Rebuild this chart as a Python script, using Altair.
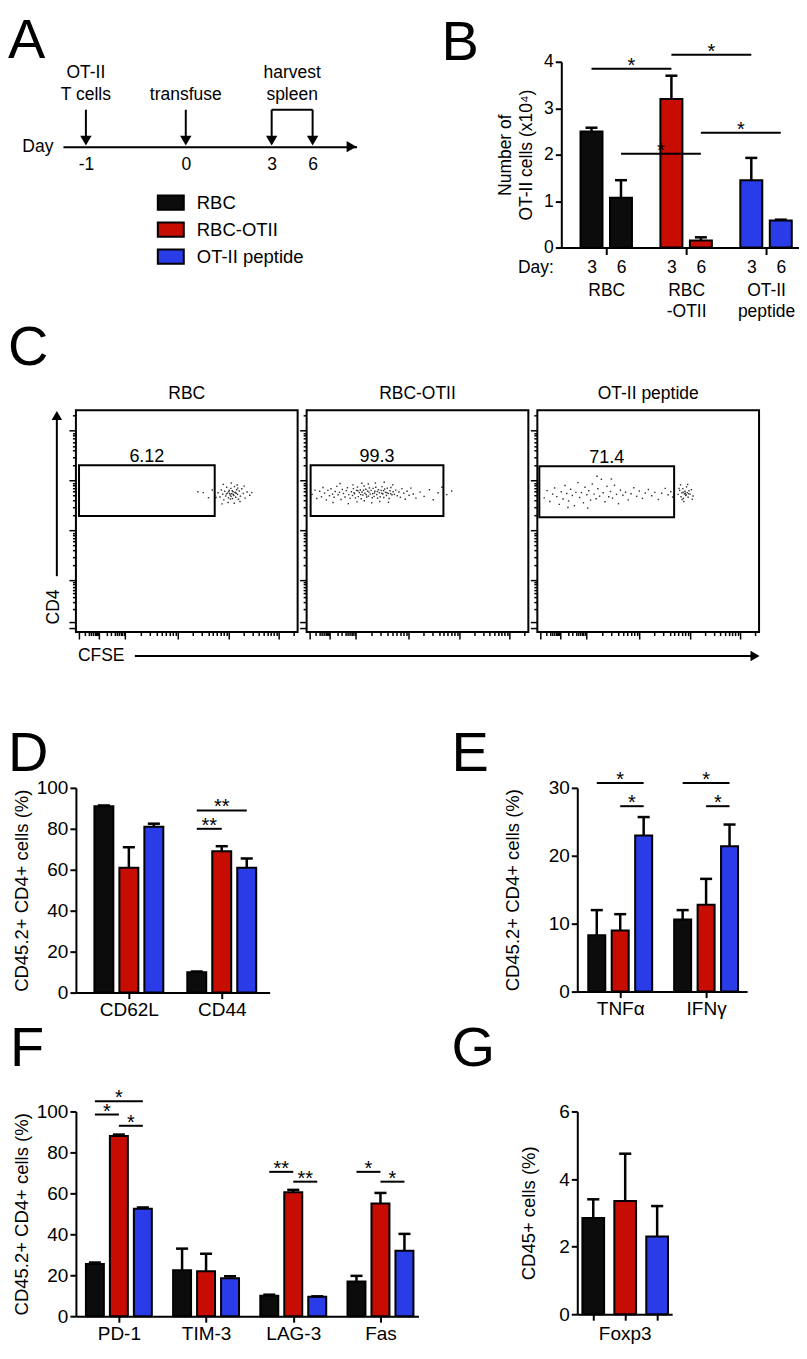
import altair as alt
import pandas as pd

FONT = "Liberation Sans"

# ---------------- shared series ----------------
SERIES = ["RBC", "RBC-OTII", "OT-II peptide"]
SERIES_COLORS = ["#0c0c0c", "#c70d02", "#2a3be8"]

# ---------------- panel A (timeline) ----------------
TL_DAYS = [-1, 0, 3, 6]
EV_TEXT = ["OT-II\nT cells", "\ntransfuse", "harvest\nspleen"]
EV_FROM = [-1, 0, 3]
EV_TO = [-1, 0, 6]

# ---------------- panel B ----------------
B_GROUPS = ["RBC", "RBC-OTII", "OT-II peptide"]
B_GROUP_LINES = [["RBC"], ["RBC", "-OTII"], ["OT-II", "peptide"]]
B_DAYS = ["3", "6"]
B_MEAN = [[2.50, 1.07], [3.20, 0.15], [1.45, 0.58]]
B_SEM = [[0.08, 0.38], [0.50, 0.07], [0.48, 0.02]]
B_SIG = [((0, 0), (1, 0), 3.85, "*"), ((1, 0), (2, 0), 4.15, "*"),
         ((0, 1), (1, 1), 2.02, "*"), ((1, 1), (2, 1), 2.47, "*")]

# ---------------- panel C (flow plots, axis units 0-100) ----------------
C_PCT = ["6.12", "99.3", "71.4"]
C_GATES = [[1.4, 62.6, 52.3, 75.2], [1.8, 61.7, 52.3, 75.2], [0.9, 61.7, 51.8, 74.8]]
C1_EVENTS = [(64.1,62.8),(65.0,60.9),(65.6,64.1),(66.2,62.2),(66.7,59.6),(67.1,63.5),(67.6,61.4),(68.0,65.3),
             (68.4,62.7),(68.8,60.5),(69.2,63.9),(69.6,61.8),(69.9,64.8),(70.3,62.4),(70.6,60.2),(70.9,63.3),
             (71.2,61.6),(71.5,65.6),(71.8,62.9),(72.1,60.8),(72.5,64.2),(72.9,62.1),(73.3,59.9),(73.7,63.6),
             (74.2,61.3),(74.8,64.6),(75.5,62.5),(76.3,60.4),(77.2,63.2),(78.4,61.7),(66.5,66.6),(68.6,58.4),
             (70.1,67.2),(71.4,58.1),(72.7,66.3),(74.0,58.9),(69.4,62.5),(70.5,63.7),(71.0,62.0),(71.9,63.0),
             (70.0,61.2),(68.9,63.4),(72.3,62.6),(69.7,60.0),(73.0,64.9),(67.9,62.3),(75.9,65.8),(63.2,60.7),
             (79.3,62.9),(65.9,57.8),(57.4,62.9),(59.8,60.6),(61.5,64.1),(55.0,63.3),(62.6,61.8)]
C2_EVENTS = [(2.5,62.1),(3.8,64.0),(4.6,60.2),(5.9,63.5),(6.7,61.0),(7.4,65.2),(8.1,62.7),(8.9,59.6),(9.6,63.9),
             (10.3,61.5),(11.0,64.6),(11.7,62.2),(12.4,60.8),(12.9,63.4),(13.6,65.7),(14.2,61.9),(14.8,63.0),
             (15.5,59.8),(16.1,64.3),(16.6,62.5),(17.3,60.9),(17.9,63.8),(18.4,65.1),(19.0,62.0),(19.6,60.3),
             (11.9,58.4),(15.1,67.0),(18.8,57.9),(20.2,63.3),(20.7,61.6),(21.1,64.7),(21.6,62.4),(22.0,60.5),
             (22.5,63.9),(22.9,65.4),(23.3,61.1),(23.8,62.9),(24.2,64.1),(24.6,60.1),(25.0,63.2),(25.4,61.8),
             (25.9,65.9),(26.3,62.6),(26.7,64.4),(27.1,60.9),(27.5,63.6),(27.9,61.3),(28.3,65.0),(28.7,62.2),
             (29.1,63.9),(29.6,60.6),(30.0,64.8),(20.9,66.4),(22.7,58.7),(24.9,67.1),(26.0,59.2),(27.8,66.8),
             (29.4,58.3),(21.4,62.9),(23.1,63.7),(24.4,62.0),(25.7,64.0),(26.9,61.9),(28.1,63.1),(29.8,62.4),
             (30.4,61.2),(30.8,63.5),(31.2,65.3),(31.6,62.0),(32.0,60.4),(32.4,64.2),(32.8,62.8),(33.2,61.0),
             (33.6,63.9),(34.0,65.6),(34.4,62.3),(34.8,60.7),(35.2,64.5),(35.6,63.0),(36.0,61.6),(36.4,64.9),
             (36.8,62.5),(37.2,60.2),(37.6,63.7),(38.0,65.2),(38.5,61.9),(39.0,63.3),(39.6,62.1),(31.0,67.2),
             (33.0,58.9),(35.0,67.6),(36.9,58.5),(38.8,66.4),(30.6,62.7),(31.9,63.4),(33.9,62.6),(34.7,63.8),
             (36.2,62.9),(37.9,62.4),(40.2,64.0),(40.9,61.5),(41.6,63.2),(42.3,60.8),(43.0,64.7),(43.8,62.6),
             (44.5,59.9),(45.3,63.5),(46.2,61.7),(47.0,64.9),(48.1,62.3),(49.3,60.4),(51.2,63.1),(53.0,61.2),
             (55.4,64.2),(57.1,59.7),(59.3,62.8),(61.0,65.3),(63.2,62.0),(65.4,63.6)]
C3_EVENTS = [(3.1,60.5),(4.4,63.8),(5.6,58.9),(6.9,62.2),(7.8,65.0),(8.8,61.1),(9.9,57.6),(10.8,63.3),(11.6,60.0),
             (12.5,66.1),(13.3,62.5),(14.1,59.1),(15.0,64.4),(15.8,61.6),(16.7,57.0),(17.4,63.0),(18.3,67.4),
             (19.1,60.7),(19.9,62.9),(20.8,58.3),(21.5,65.3),(22.3,61.9),(23.2,63.7),(24.0,59.5),(24.8,66.8),
             (25.6,62.2),(26.5,60.1),(27.3,64.6),(28.1,61.3),(28.9,68.9),(29.7,62.8),(30.5,58.8),(31.4,65.7),
             (32.2,61.0),(33.0,63.4),(33.9,60.4),(34.8,66.2),(35.7,62.1),(36.6,57.9),(37.5,64.0),(38.6,61.7),
             (39.8,63.1),(41.0,59.6),(42.3,62.4),(43.5,65.1),(44.8,61.2),(46.0,63.6),(47.4,60.3),(48.7,62.7),
             (50.1,64.3),(51.6,61.5),(53.0,63.0),(54.6,59.8),(56.1,62.6),(57.7,64.8),(59.0,61.9),(60.2,63.3),
             (61.0,60.9),(26.9,70.3),(22.7,55.9),(33.4,69.0),(13.8,56.2),(63.5,62.1),(64.2,63.9),(64.8,61.0),
             (65.2,62.8),(65.6,64.7),(65.9,60.3),(66.3,62.3),(66.6,63.5),(66.9,61.6),(67.3,65.5),(67.6,62.9),
             (68.0,60.8),(68.4,63.7),(68.9,62.2),(69.5,64.2),(70.2,61.4),(64.6,66.4),(66.1,58.9),(67.8,66.6),
             (65.3,59.8),(66.7,62.6),(67.1,61.9),(65.8,63.1),(68.2,62.4),(63.9,64.8),(69.9,59.9)]
C_EVENTS = [C1_EVENTS, C2_EVENTS, C3_EVENTS]
FX_MAJOR = [1.5, 10.4, 22.0, 46.0, 68.8, 91.4]
FX_MINOR = [4.2, 5.7, 6.9, 7.7, 8.4, 9.0, 9.5, 10.0, 13.9, 15.9, 17.4, 18.5, 19.4, 20.2, 20.9, 21.5,
            29.2, 33.5, 36.4, 38.8, 40.7, 42.3, 43.7, 44.9, 52.9, 56.9, 59.7, 61.9, 63.7, 65.3, 66.6, 67.8,
            75.6, 79.6, 82.4, 84.6, 86.4, 87.9, 89.2, 90.4, 98.2]
FY_MAJOR = [2.0, 4.5, 23.3, 45.8, 68.3, 90.8]
FY_MINOR = [10.2, 13.5, 15.8, 17.6, 19.1, 20.4, 21.5, 22.4, 30.1, 34.0, 36.8, 39.0, 40.8, 42.3, 43.6, 44.8,
            52.6, 56.5, 59.3, 61.5, 63.3, 64.8, 66.1, 67.3, 75.1, 79.0, 81.8, 84.0, 85.8, 87.3, 88.6, 89.8, 97.6]

# ---------------- panels D-G (mean, SEM by series) ----------------
D_MARKERS = ["CD62L", "CD44"]
D_MEAN = [[91.0, 10.0], [61.0, 69.0], [81.0, 61.0]]
D_SEM = [[0.4, 0.3], [10.0, 2.5], [1.5, 4.5]]
D_SIG = [(1, 0, 2, 89.0, "**"), (1, 0, 1, 80.0, "**")]

E_MARKERS = ["TNFα", "IFNγ"]
E_MEAN = [[8.3, 10.6], [9.0, 12.8], [23.0, 21.4]]
E_SEM = [[3.7, 1.4], [2.4, 3.8], [2.7, 3.2]]
E_SIG = [(0, 0, 2, 30.7, "*"), (0, 1, 2, 27.3, "*"), (1, 0, 2, 30.7, "*"), (1, 1, 2, 27.3, "*")]

F_MARKERS = ["PD-1", "TIM-3", "LAG-3", "Fas"]
F_MEAN = [[25.5, 22.5, 10.0, 17.0], [88.0, 22.0, 60.5, 55.0], [52.5, 18.5, 9.5, 32.0]]
F_SEM = [[0.7, 10.5, 0.5, 2.7], [0.7, 8.5, 1.2, 5.2], [0.6, 1.0, 0.2, 8.2]]
F_SIG = [(0, 0, 2, 105.0, "*"), (0, 0, 1, 98.5, "*"), (0, 1, 2, 93.0, "*"),
         (2, 0, 1, 70.5, "**"), (2, 1, 2, 65.7, "**"), (3, 0, 1, 70.5, "*"), (3, 1, 2, 65.7, "*")]

G_MARKERS = ["Foxp3"]
G_MEAN = [2.85, 3.35, 2.30]
G_SEM = [0.55, 1.40, 0.90]

# ======================================================================
CSCALE = alt.Scale(domain=SERIES, range=SERIES_COLORS)
LEG = alt.Legend(orient="none", legendX=81, legendY=127, title=None, direction="vertical",
                 symbolType="M-1,-0.55H1V0.55H-1Z", symbolSize=676, symbolStrokeColor="black",
                 symbolStrokeWidth=2, symbolOpacity=1, labelFontSize=18.5, labelFont=FONT,
                 labelColor="black", labelOffset=12, rowPadding=1, padding=0)
LFS = 19      # tick-label size for D-G
TFS = 18.5    # axis-title size for D-G
BFS = 17.5    # text size in A, B, C


def letter(t, dx, offset=0):
    return alt.TitleParams(t, fontSize=56, font=FONT, fontWeight="normal", anchor="start", frame="group",
                           dx=dx, offset=offset, color="black")


def bar_chart(df, sig_df, n_sub, off, half, cap, xdom, ydom, x_axis, y_axis, sig_axis=None):
    c = (n_sub - 1) / 2
    xs = alt.Scale(domain=xdom, nice=False, zero=False)
    ys = alt.Scale(domain=ydom, nice=False, zero=False)
    base = (alt.Chart(df)
            .transform_calculate(pos=f"datum.g + (datum.s - {c}) * {off}")
            .transform_calculate(lo=f"datum.pos - {half}", hi=f"datum.pos + {half}",
                                 clo=f"datum.pos - {cap}", chi=f"datum.pos + {cap}",
                                 upper="datum.mean + datum.sem"))

    def X(f, ax=x_axis):
        return alt.X(f, type="quantitative", scale=xs, axis=ax)

    def Y(f):
        return alt.Y(f, type="quantitative", scale=ys, axis=y_axis)

    bars = base.mark_rect(stroke="black", strokeWidth=2).encode(
        x=X("lo"), x2="hi:Q", y=Y("mean"), y2=alt.datum(0),
        color=alt.Color("col:N", scale=CSCALE, legend=LEG))
    stems = base.mark_rule(color="black", strokeWidth=2.5).encode(x=X("pos"), y=Y("mean"), y2="upper:Q")
    caps = base.mark_rule(color="black", strokeWidth=2.5).encode(x=X("clo"), x2="chi:Q", y=Y("upper"))
    main = alt.layer(bars, stems, caps)
    if sig_df is None:
        return main
    ax2 = sig_axis if sig_axis is not None else x_axis
    sb = (alt.Chart(sig_df)
          .transform_calculate(a=f"datum.g1 + (datum.s1 - {c}) * {off}")
          .transform_calculate(b=f"datum.g2 + (datum.s2 - {c}) * {off}")
          .transform_calculate(m="(datum.a + datum.b) / 2"))
    lines = sb.mark_rule(color="black", strokeWidth=2).encode(x=X("a", ax2), x2="b:Q", y=Y("y"))
    stars = sb.mark_text(fontSize=20, font=FONT, baseline="alphabetic", dy=3, color="black").encode(
        x=X("m", ax2), y=Y("y"), text="t:N")
    ch = alt.layer(main, alt.layer(lines, stars))
    if sig_axis is not None:
        ch = ch.resolve_scale(x="independent").resolve_axis(x="independent")
    return ch


def series_df(means, sems):
    rows = []
    for si, name in enumerate(SERIES):
        for gi in range(len(means[si])):
            rows.append(dict(g=gi, s=si, col=name, mean=means[si][gi], sem=sems[si][gi]))
    return pd.DataFrame(rows)


def sig_frame(sig):
    return pd.DataFrame([dict(g1=g, s1=a, g2=g, s2=b, y=y, t=t) for g, a, b, y, t in sig])


def y_axis(vals, title, pad):
    return alt.Axis(values=vals, tickSize=6, labelPadding=2, title=title, titlePadding=pad,
                    domainWidth=2, tickWidth=2, grid=False, labelFontSize=LFS, titleFontSize=TFS)


def group_x_axis(names):
    expr = "[" + ",".join("'" + n + "'" for n in names) + "][datum.value]"
    return alt.Axis(values=list(range(len(names))), labelExpr=expr, tickSize=6, labelPadding=2,
                    title=None, grid=False, domainWidth=2, tickWidth=2, labelFontSize=LFS)


# ---------------- A ----------------
tl_x = alt.Scale(domain=[-2, -1, 0, 3, 6, 8], range=[-13, 10, 110, 196, 237, 281])
a_y = alt.Scale(domain=[0, 1], nice=False)
tl_axis = alt.Axis(values=TL_DAYS, labelExpr="datum.value + ''", ticks=False, labelPadding=9,
                   domainWidth=2, title="Day", titleX=-23, titleY=0, titleAlign="right",
                   titleBaseline="middle", titleAngle=0, titleFontSize=BFS, labelFontSize=BFS, grid=False)
days_df = pd.DataFrame({"day": TL_DAYS})
ev_df = pd.DataFrame({"label": EV_TEXT, "d0": EV_FROM, "d1": EV_TO})


def YA(v):
    return alt.YDatum(v, type="quantitative", scale=a_y, axis=None)


stems_a = alt.Chart(days_df).mark_rule(strokeWidth=2, color="black").encode(
    x=alt.X("day:Q", scale=tl_x, axis=tl_axis), y=YA(0.08), y2=alt.Y2Datum(0.435))
heads_a = alt.Chart(days_df).mark_point(shape="triangle-down", filled=True, size=130, color="black",
                                        opacity=1, yOffset=-6).encode(
    x=alt.X("day:Q", scale=tl_x, axis=tl_axis), y=YA(0))
bracket_a = alt.Chart(ev_df).transform_filter("datum.d0 != datum.d1").mark_rule(
    strokeWidth=2, color="black").encode(x=alt.X("d0:Q", scale=tl_x, axis=tl_axis), x2="d1:Q", y=YA(0.435))
text_a = alt.Chart(ev_df).transform_calculate(mid="(datum.d0 + datum.d1) / 2").mark_text(
    lineBreak="\n", baseline="alphabetic", fontSize=BFS, font=FONT, lineHeight=22, color="black").encode(
    x=alt.X("mid:Q", scale=tl_x, axis=tl_axis), y=YA(0.81), text="label:N")
end_a = alt.Chart(pd.DataFrame({"k": [0]})).mark_point(shape="triangle-right", filled=True, size=130,
                                                       color="black", opacity=1, xOffset=-5).encode(
    x=alt.XDatum(8, type="quantitative", scale=tl_x, axis=tl_axis), y=YA(0))
chart_a = alt.layer(stems_a, heads_a, bracket_a, text_a, end_a).properties(
    width=281, height=85, title=letter("A", dx=-68, offset=-8))

# ---------------- B ----------------
b_rows = []
for gi, grp in enumerate(B_GROUPS):
    for di, day in enumerate(B_DAYS):
        b_rows.append(dict(g=gi, s=di, col=grp, day=day, mean=B_MEAN[gi][di], sem=B_SEM[gi][di]))
b_df = pd.DataFrame(b_rows)
b_sig = pd.DataFrame([dict(g1=f[0], s1=f[1], g2=t[0], s2=t[1], y=y, t=lab) for f, t, y, lab in B_SIG])
B_OFF = 0.369
b_day_vals = [gi + (di - 0.5) * B_OFF for gi in range(len(B_GROUPS)) for di in range(len(B_DAYS))]
b_day_axis = alt.Axis(values=b_day_vals,
                      labelExpr=f"datum.value < round(datum.value) ? '{B_DAYS[0]}' : '{B_DAYS[1]}'",
                      ticks=False, labelPadding=11, orient="bottom", domainWidth=2, grid=False,
                      labelFontSize=BFS, title="Day:", titleX=-8, titleY=11, titleAlign="right",
                      titleBaseline="top", titleAngle=0, titleFontSize=BFS)
b_grp_expr = "[" + ",".join("[" + ",".join("'" + s + "'" for s in ln) + "]" for ln in B_GROUP_LINES) + "][datum.value]"
b_grp_axis = alt.Axis(values=list(range(len(B_GROUPS))), labelExpr=b_grp_expr, tickSize=7, tickWidth=2,
                      labelPadding=27, labelLineHeight=21, labelFontSize=BFS, domain=False,
                      orient="bottom", title=None, grid=False)
b_y_axis = alt.Axis(values=[0, 1, 2, 3, 4], tickSize=6, labelPadding=2, labelFontSize=BFS,
                    title=["Number of", "OT-II cells (x10⁴)"], titleFontSize=BFS,
                    titlePadding=8, titleLineHeight=21, domainWidth=2, tickWidth=2, grid=False)
chart_b = bar_chart(b_df, b_sig, 2, B_OFF, 0.1375, 0.075, [-0.5625, 2.4125], [0, 4],
                    b_day_axis, b_y_axis, sig_axis=b_grp_axis).properties(
    width=238, height=186, title=letter("B", dx=-120, offset=-30))

# ---------------- C ----------------
def tick_cond(majors):
    return {"condition": {"test": f"indexof({majors}, datum.value) >= 0", "value": 7}, "value": 3.5}


one = pd.DataFrame({"k": [0]})


def flow_panel(i):
    ev = pd.DataFrame(C_EVENTS[i], columns=["x", "y"])
    g = C_GATES[i]
    gate = pd.DataFrame([dict(x1=g[0], x2=g[1], y1=g[2], y2=g[3], t=C_PCT[i])])
    xs = alt.Scale(domain=[0, 100], nice=False)
    ys = alt.Scale(domain=[0, 100], nice=False)
    xax = alt.Axis(values=FX_MAJOR + FX_MINOR, labels=False, domain=False, title=None, grid=False,
                   tickSize=tick_cond(FX_MAJOR), tickWidth=1.5)
    yax = alt.Axis(values=FY_MAJOR + FY_MINOR, labels=False, domain=False, title=None, grid=False,
                   tickSize=tick_cond(FY_MAJOR), tickWidth=1.5)

    def XD(v):
        return alt.XDatum(v, type="quantitative", scale=xs, axis=xax)

    def YD(v):
        return alt.YDatum(v, type="quantitative", scale=ys, axis=yax)

    pts = alt.Chart(ev).mark_square(size=2, color="#1a1a1a", opacity=0.9).encode(
        x=alt.X("x:Q", scale=xs, axis=xax), y=alt.Y("y:Q", scale=ys, axis=yax))
    box = alt.Chart(gate).mark_rect(fillOpacity=0, stroke="black", strokeWidth=2).encode(
        x=alt.X("x1:Q", scale=xs, axis=xax), x2="x2:Q", y=alt.Y("y1:Q", scale=ys, axis=yax), y2="y2:Q")
    lab = alt.Chart(gate).transform_calculate(mx="(datum.x1 + datum.x2) / 2").mark_text(
        fontSize=18, font=FONT, baseline="alphabetic", dy=-3, color="black").encode(
        x=alt.X("mx:Q", scale=xs, axis=xax), y=alt.Y("y2:Q", scale=ys, axis=yax), text="t:N")
    layers = [pts, box, lab]
    if i == 0:
        # CD4 (vertical) and CFSE (horizontal) axis arrows of the whole row
        layers += [
            alt.Chart(one).mark_rule(strokeWidth=2, color="black").encode(x=XD(-8.6), y=YD(25.2), y2=alt.Y2Datum(96)),
            alt.Chart(one).mark_point(shape="triangle-up", filled=True, size=110, color="black", opacity=1).encode(
                x=XD(-8.6), y=YD(97.7)),
            alt.Chart(one).mark_text(text="CD4", angle=270, fontSize=BFS, font=FONT, color="black").encode(
                x=XD(-9.9), y=YD(11.3)),
            alt.Chart(one).mark_rule(strokeWidth=2, color="black").encode(x=XD(26.6), x2=alt.X2Datum(304.5), y=YD(-10.8)),
            alt.Chart(one).mark_point(shape="triangle-right", filled=True, size=110, color="black", opacity=1).encode(
                x=XD(306.3), y=YD(-10.8)),
            alt.Chart(one).mark_text(text="CFSE", fontSize=BFS, font=FONT, align="left", baseline="middle",
                                     color="black").encode(x=XD(0.9), y=YD(-10.8)),
        ]
    return alt.layer(*layers).properties(
        width=222, height=222, view=alt.ViewBackground(stroke="black", strokeWidth=2),
        title=alt.TitleParams(SERIES[i], fontSize=BFS, font=FONT, fontWeight="normal",
                              anchor="middle", offset=8, color="black"))


row_c = alt.hconcat(flow_panel(0), flow_panel(1), flow_panel(2), spacing=9, bounds="flush",
                    title=letter("C", dx=-68, offset=7))

# ---------------- D ----------------
chart_d = bar_chart(series_df(D_MEAN, D_SEM), sig_frame(D_SIG), 3, 0.269, 0.102, 0.065,
                    [-0.570, 1.516], [0, 100], group_x_axis(D_MARKERS),
                    y_axis([0, 20, 40, 60, 80, 100], "CD45.2+ CD4+ cells (%)", 5)).properties(
    width=194, height=205, title=letter("D", dx=-68, offset=-4))

# ---------------- E ----------------
chart_e = bar_chart(series_df(E_MEAN, E_SEM), sig_frame(E_SIG), 3, 0.273, 0.099, 0.07,
                    [-0.5, 1.477], [0, 30], group_x_axis(E_MARKERS),
                    y_axis([0, 10, 20, 30], "CD45.2+ CD4+ cells (%)", 26)).properties(
    width=170, height=204, title=letter("E", dx=-126, offset=-13))

# ---------------- F ----------------
chart_f = bar_chart(series_df(F_MEAN, F_SEM), sig_frame(F_SIG), 3, 0.275, 0.103, 0.069,
                    [-0.4926, 3.436], [0, 100], group_x_axis(F_MARKERS),
                    y_axis([0, 20, 40, 60, 80, 100], "CD45.2+ CD4+ cells (%)", 5)).properties(
    width=343, height=205, title=letter("F", dx=-66, offset=10))

# ---------------- G ----------------
g_df = pd.DataFrame([dict(g=0, s=si, col=name, mean=G_MEAN[si], sem=G_SEM[si]) for si, name in enumerate(SERIES)])
g_x_axis = alt.Axis(values=[-1, 0, 1], labels=False, tickSize=6, tickWidth=2, domainWidth=2, grid=False,
                    title=G_MARKERS[0], titlePadding=3, titleFontSize=LFS)
chart_g = bar_chart(g_df, None, 3, 1.0, 0.34, 0.19, [-1.5, 1.47], [0, 6], g_x_axis,
                    y_axis([0, 2, 4, 6], "CD45+ cells (%)", 20)).properties(
    width=95, height=203, title=letter("G", dx=-126, offset=25))

row1 = alt.hconcat(chart_a, chart_b, spacing=205, bounds="flush")
row_de = alt.hconcat(chart_d, chart_e, spacing=308, bounds="flush")
row_fg = alt.hconcat(chart_f, chart_g, spacing=159, bounds="flush")

top = alt.vconcat(row1, row_c, spacing=-1)
bottom = alt.vconcat(row_de, row_fg, spacing=1)

chart = (alt.vconcat(top, bottom, spacing=60)
         .properties(padding={"left": 0, "top": 4, "right": 0, "bottom": 0},
                     autosize=alt.AutoSizeParams(type="pad"))
         .configure(font=FONT)
         .configure_view(stroke=None)
         .configure_axis(labelFont=FONT, titleFont=FONT, labelFontSize=LFS, titleFontSize=TFS,
                         labelColor="black", titleColor="black", domainColor="black", tickColor="black",
                         titleFontWeight="normal")
         .configure_text(font=FONT)
         .configure_title(font=FONT))

chart.save("out.html", embed_options={"renderer": "svg", "actions": False})
